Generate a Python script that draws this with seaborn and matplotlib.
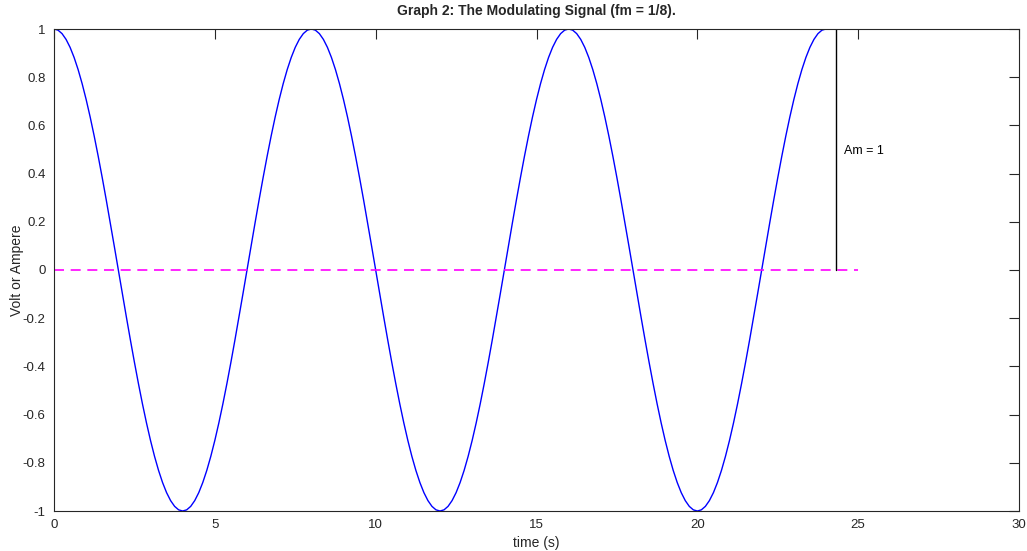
import numpy as np
import pandas as pd
import matplotlib
matplotlib.use("Agg")
import matplotlib.pyplot as plt
import seaborn as sns

one_period = [
    1.0, 0.9952, 0.9808, 0.9569, 0.9239, 0.8819, 0.8315, 0.7730,
    0.7071, 0.6344, 0.5556, 0.4714, 0.3827, 0.2903, 0.1951, 0.0980,
    0.0, -0.0980, -0.1951, -0.2903, -0.3827, -0.4714, -0.5556, -0.6344,
    -0.7071, -0.7730, -0.8315, -0.8819, -0.9239, -0.9569, -0.9808, -0.9952,
    -1.0, -0.9952, -0.9808, -0.9569, -0.9239, -0.8819, -0.8315, -0.7730,
    -0.7071, -0.6344, -0.5556, -0.4714, -0.3827, -0.2903, -0.1951, -0.0980,
    0.0, 0.0980, 0.1951, 0.2903, 0.3827, 0.4714, 0.5556, 0.6344,
    0.7071, 0.7730, 0.8315, 0.8819, 0.9239, 0.9569, 0.9808, 0.9952,
]
signal = one_period * 3 + [1.0]   # three periods, 0..24 s
t_start, t_end = 0.0, 24.0
time = np.linspace(t_start, t_end, len(signal))

zero_line_x = [0, 25]
zero_line_y = [0, 0]
amp_marker_x = 24.3
amp_marker_y = [0, 1]
amp_label = "Am = 1"

xticks = [0, 5, 10, 15, 20, 25, 30]
yticks = [-1, -0.8, -0.6, -0.4, -0.2, 0, 0.2, 0.4, 0.6, 0.8, 1]
ytick_labels = ["-1", "-0.8", "-0.6", "-0.4", "-0.2", "0", "0.2", "0.4", "0.6", "0.8", "1"]

sns.set_style("white")
plt.rcParams['font.family'] = ['Liberation Sans', 'DejaVu Sans']

fig = plt.figure(figsize=(10.27, 5.51), dpi=100)
ax = fig.add_axes([54/1027, 1 - 511/551, (1019-54)/1027, (511-29)/551])

df = pd.DataFrame({"time": time, "signal": signal})
sns.lineplot(data=df, x="time", y="signal", ax=ax, color="#0000ff", linewidth=1.0)
ax.plot(zero_line_x, zero_line_y, color="#ff00ff", linestyle=(0, (6, 4)), linewidth=1.2)
ax.plot([amp_marker_x, amp_marker_x], amp_marker_y, color="black", linewidth=1.0)
ax.text(24.55, 0.495, amp_label, fontsize=9, va="center", ha="left", color="black")

ax.set_xlim(0, 30)
ax.set_ylim(-1, 1)
ax.set_xticks(xticks)
ax.set_yticks(yticks)
ax.set_yticklabels(ytick_labels)
ax.tick_params(direction="in", length=7, width=0.8, top=True, right=True,
               labelsize=9.5, colors="#262626", labelcolor="#262626", pad=6)
for s in ax.spines.values():
    s.set_color("#262626")
    s.set_linewidth(0.8)

ax.set_xlabel("time (s)", fontsize=10, color="#262626", labelpad=3)
ax.set_ylabel("Volt or Ampere", fontsize=10, color="#262626", va="center")
ax.yaxis.set_label_coords(-37/965, 0.5)
ax.set_title("Graph 2: The Modulating Signal (fm = 1/8).", fontsize=10, fontweight="bold", pad=10)

fig.savefig("out.png", dpi=100)
